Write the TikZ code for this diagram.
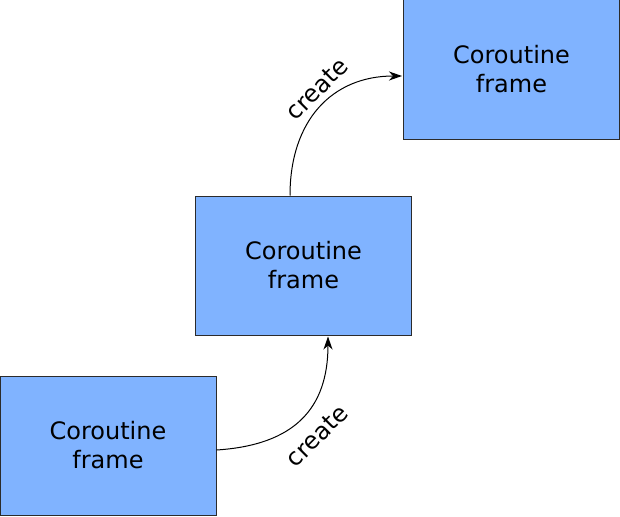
\documentclass[tikz,border=0pt]{standalone}
\usepackage{fontspec}
\setmainfont{DejaVu Sans}
\usepackage{xcolor}
\usepackage{tikz}
\usetikzlibrary{calc,arrows.meta}
\definecolor{framefill}{HTML}{80B3FF}
\definecolor{frameline}{HTML}{2B2B2B}

\begin{document}
\begin{tikzpicture}[x=1pt,y=-1pt,
        frame/.style={draw=frameline,fill=framefill,line width=1pt,minimum width=216pt,minimum height=139pt,inner sep=0pt,align=center,font=\fontsize{24}{30}\selectfont},
        lbl/.style={rotate=45,font=\fontsize{24}{30}\selectfont},
        link/.style={-{Stealth[length=13pt,width=9pt,inset=4pt]},line width=1pt}]
        \useasboundingbox (0,0) rectangle (620,516);
        \node[frame] (f1) at (108,445.5) {Coroutine\\[-1pt]frame};
        \node[frame] (f2) at (303.5,265.5) {Coroutine\\[-1pt]frame};
        \node[frame] (f3) at (511.5,69.5) {Coroutine\\[-1pt]frame};
        \draw ([yshift=-4.5pt]f1.east) coordinate (a);
        \draw ([xshift=24.5pt,yshift=-1pt]f2.south) coordinate (b);
        \draw ([xshift=-13.5pt]f2.north) coordinate (c);
        \draw ([xshift=-1pt,yshift=-6.5pt]f3.west) coordinate (d);
        \draw[link] (a) .. controls +(78,-5) and +(0,72) .. (b);
        \draw[link] (c) .. controls +(0,-75) and +(-70,0) .. (d);
        \node[lbl] (l1) at (317,436) {create};
        \node[lbl] (l2) at (317,89) {create};
    \end{tikzpicture}
\end{document}
